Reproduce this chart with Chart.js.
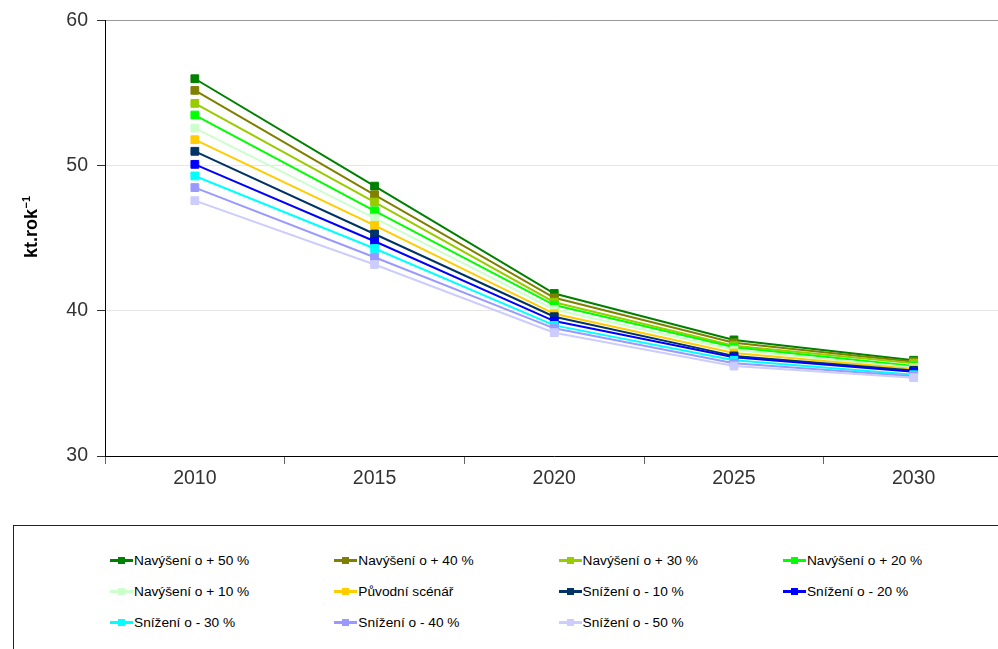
<!DOCTYPE html>
<html lang="cs">
<head>
<meta charset="utf-8">
<title>Emise – scénáře</title>
<script src="https://cdn.jsdelivr.net/npm/chart.js@4/dist/chart.umd.min.js"></script>
<style>
  html, body { margin: 0; padding: 0; background: #fff; overflow: hidden; width: 998px; height: 649px; }
  #wrap { position: absolute; left: 0; top: 0; width: 1010px; height: 500px; }
  #legend { position: absolute; left: 13px; top: 525px; width: 1100px; height: 200px;
            border: 1px solid #222; box-sizing: border-box; }
  .item { position: absolute; height: 20px; display: flex; align-items: center;
          font: 13.7px "Liberation Sans", Arial, sans-serif; color: #000; white-space: nowrap; }
  .mk { position: relative; width: 23px; height: 20px; margin-right: 1px; }
  .mk .ln { position: absolute; left: 0; top: 9px; width: 23px; height: 3px; }
  .mk .sq { position: absolute; left: 8px; top: 7px; width: 7px; height: 7px; }
</style>
</head>
<body>
<div id="wrap"><canvas id="c" width="1010" height="500"></canvas></div>
<div id="legend"></div>
<script>
// Roky
const years = ['2010', '2015', '2020', '2025', '2030'];

// Emise podle scénářů (kt.rok⁻¹)
const navyseni50 = [56.0, 48.6, 41.2, 38.0, 36.6];
const navyseni40 = [55.2, 48.0, 40.9, 37.8, 36.5];
const navyseni30 = [54.3, 47.5, 40.6, 37.6, 36.4];
const navyseni20 = [53.5, 46.9, 40.4, 37.5, 36.2];
const navyseni10 = [52.6, 46.4, 40.1, 37.3, 36.1];
const puvodni    = [51.8, 45.9, 39.8, 37.1, 36.0];
const snizeni10  = [51.0, 45.3, 39.6, 36.9, 35.9];
const snizeni20  = [50.1, 44.8, 39.3, 36.8, 35.8];
const snizeni30  = [49.3, 44.3, 39.0, 36.6, 35.6];
const snizeni40  = [48.5, 43.7, 38.8, 36.4, 35.5];
const snizeni50  = [47.6, 43.2, 38.5, 36.2, 35.4];

const seriesNames = [
  'Navýšení o + 50 %', 'Navýšení o + 40 %', 'Navýšení o + 30 %', 'Navýšení o + 20 %',
  'Navýšení o + 10 %', 'Původní scénář', 'Snížení o - 10 %', 'Snížení o - 20 %',
  'Snížení o - 30 %', 'Snížení o - 40 %', 'Snížení o - 50 %'
];
const seriesValues = [
  navyseni50, navyseni40, navyseni30, navyseni20, navyseni10, puvodni,
  snizeni10, snizeni20, snizeni30, snizeni40, snizeni50
];
const yTicks = [30, 40, 50, 60];

// Barvy řad
const seriesColors = [
  '#008000', '#808000', '#99CC00', '#00FF00', '#CCFFCC', '#FFCC00',
  '#003366', '#0000FF', '#00FFFF', '#9999FF', '#CCCCFF'
];

const FONT = '"Liberation Sans", Arial, sans-serif';

const datasets = seriesNames.map((name, i) => ({
  label: name,
  data: seriesValues[i],
  borderColor: seriesColors[i],
  backgroundColor: seriesColors[i],
  borderWidth: 2,
  pointStyle: 'rect',
  pointRadius: 5.5,
  pointBorderWidth: 1,
  pointBorderColor: seriesColors[i],
  pointBackgroundColor: seriesColors[i],
  tension: 0,
  order: seriesNames.length - i
}));

// Popisek osy Y s horním indexem
const yTitlePlugin = {
  id: 'yTitle',
  afterDraw(chart) {
    const ctx = chart.ctx;
    ctx.save();
    ctx.translate(37, 258);
    ctx.rotate(-Math.PI / 2);
    ctx.fillStyle = '#000';
    ctx.textBaseline = 'alphabetic';
    ctx.textAlign = 'left';
    ctx.font = 'bold 18px ' + FONT;
    const main = 'kt.rok';
    ctx.fillText(main, 0, 0);
    const w = ctx.measureText(main).width;
    ctx.font = 'bold 11px ' + FONT;
    ctx.fillText('−1', w + 0.5, -7.5);
    ctx.restore();
  }
};

new Chart(document.getElementById('c'), {
  type: 'line',
  data: { labels: years, datasets },
  options: {
    responsive: false,
    devicePixelRatio: 1,
    animation: false,
    layout: { padding: { top: 20, right: 5, left: 0, bottom: 0 } },
    plugins: { legend: { display: false }, tooltip: { enabled: false } },
    scales: {
      x: {
        type: 'category',
        offset: true,
        grid: { offset: true, drawOnChartArea: false, drawTicks: true, tickLength: 8, tickColor: '#666' },
        border: { color: '#000', width: 1 },
        ticks: { font: { family: FONT, size: 19.5 }, color: '#333', padding: 3, maxRotation: 0 },
        afterFit(s) { s.height = 44; }
      },
      y: {
        min: 30, max: 60,
        afterBuildTicks(s) { s.ticks = yTicks.map(v => ({ value: v })); },
        grid: {
          color: c => (c.tick && c.tick.value === 60 ? '#999' : '#e6e6e6'),
          tickLength: 8, tickColor: '#333', drawTicks: true
        },
        border: { color: '#000', width: 1 },
        ticks: { font: { family: FONT, size: 19.5 }, color: '#333', padding: 9 },
        afterFit(s) { s.width = 105; }
      }
    }
  },
  plugins: [yTitlePlugin]
});

// Legenda
const legend = document.getElementById('legend');
seriesNames.forEach((name, i) => {
  const col = i % 4, row = Math.floor(i / 4);
  const it = document.createElement('div');
  it.className = 'item';
  it.style.left = (110 + col * 224.3 - 14) + 'px';
  it.style.top = (560 + row * 31 - 10 - 526) + 'px';
  const mk = document.createElement('span');
  mk.className = 'mk';
  const ln = document.createElement('span');
  ln.className = 'ln'; ln.style.background = seriesColors[i];
  const sq = document.createElement('span');
  sq.className = 'sq'; sq.style.background = seriesColors[i];
  mk.appendChild(ln); mk.appendChild(sq);
  const tx = document.createElement('span');
  tx.textContent = name;
  it.appendChild(mk); it.appendChild(tx);
  legend.appendChild(it);
});
</script>
</body>
</html>
